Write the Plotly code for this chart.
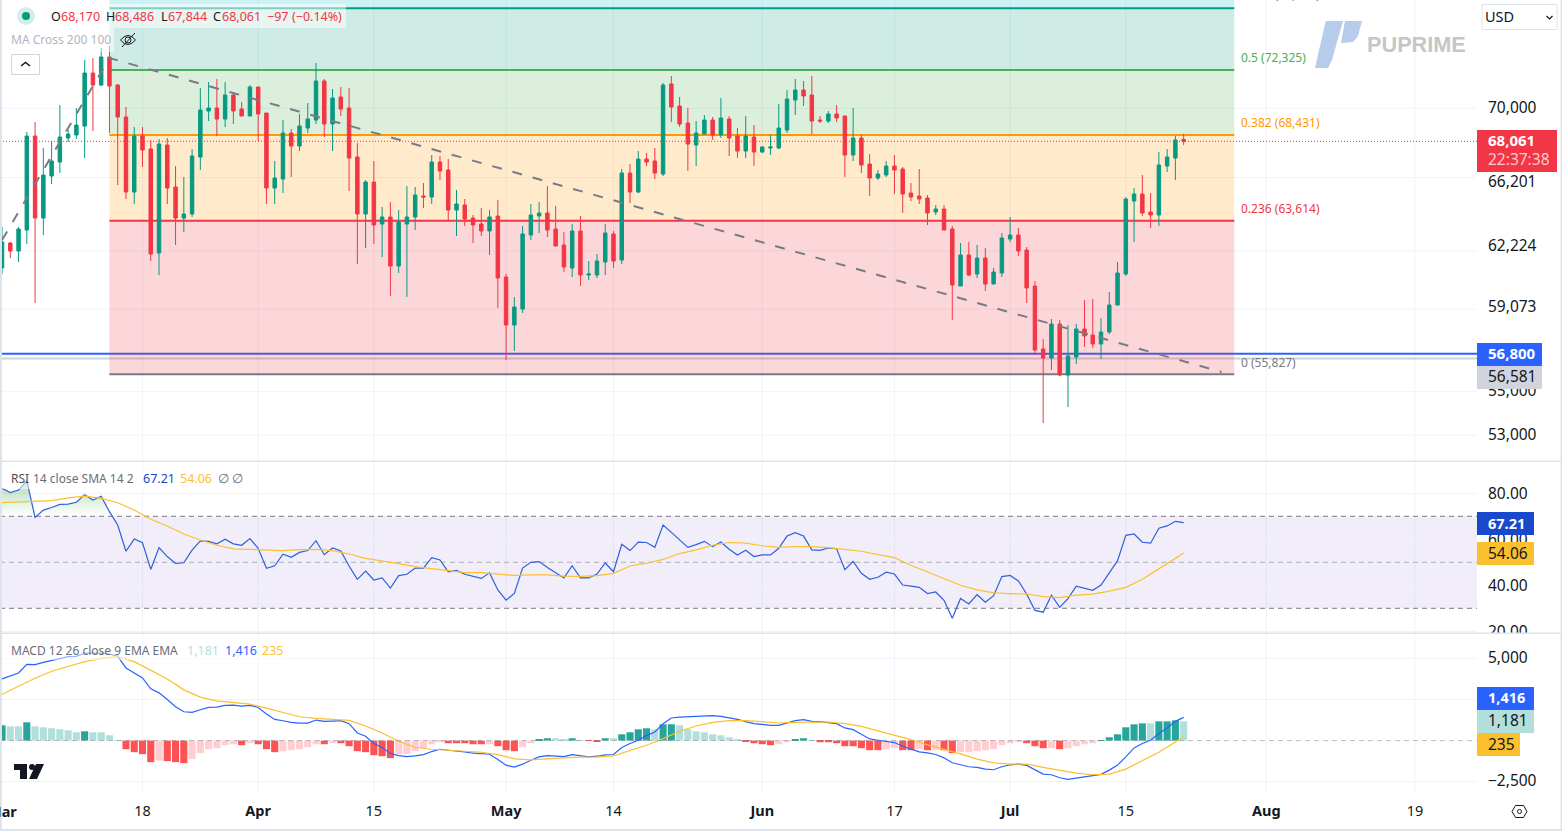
import math
import pandas as pd
import plotly.graph_objects as go

W, H = 1562, 831
PLOT_R = 1477
FONT = "Noto Sans"
DARK = "#131722"
RED = "#F23645"
GREEN = "#089981"
GRID = "#F0F3FA"
SEP = "#E0E3EB"

DATES = pd.date_range("2024-03-01", periods=144, freq="D")

OPENS = [61104,62419,61995,63113,68369,63761,66081,66874,68253,68428,68954,72135,71400,73124,71400,69484,65187,68369,67617,61890,
67847,65466,63761,63979,67158,69840,70018,69365,70798,69958,69543,71280,69721,65410,65912,68544,67790,68836,69306,71645,
69071,70678,70018,67158,63979,65744,63436,63815,61209,63436,63815,64966,64911,66874,66419,64196,64470,63761,63436,63060,
63870,60638,58211,59008,62845,63870,64033,63167,62312,61104,63060,60741,60741,61418,62899,61522,66250,65187,67044,66930,
66194,71465,70137,69130,67847,68486,69306,68428,69365,68369,67502,68311,67445,67674,67674,68719,70496,71098,70798,69306,
69247,69662,69543,67273,68253,66760,65969,66138,66646,66476,65132,64966,64855,64087,64251,63167,60176,61785,60793,61627,
60278,60845,62631,62845,62047,60176,57035,56600,58261,55787,56648,58013,57719,57278,57866,59210,60793,64690,65077,64087,
63924,66646,67101,68170]
HIGHS = [63275,62472,63275,68602,69188,67674,68078,70197,68719,70018,72937,73060,73686,73811,71465,70077,68895,68895,68136,68194,
68253,66646,66025,67617,71220,71585,71768,71585,70918,70376,71400,71280,69721,66930,69306,68778,69662,70316,72750,71768,
71160,71280,71220,67963,65856,66930,64361,64635,64196,65521,65466,65689,67273,67216,67044,65298,64800,63924,64306,64196,
64745,60793,59615,63329,64525,64635,65521,64416,63006,63436,63870,61470,61837,63436,63060,66476,66760,67502,67387,67674,
71525,71950,70678,70018,69247,69602,69484,70617,69543,68836,69543,69012,67790,68428,70257,71098,71768,71645,71950,69543,
69840,70197,69543,70018,68428,67330,66419,66930,67273,66590,65689,66476,65022,64470,64470,63329,62419,62472,62312,62153,
61104,62952,63815,63221,62206,60432,57522,58509,58459,58211,58261,59462,59513,58559,59869,61418,64911,65410,66138,65132,
67445,67617,68369,68486]
LOWS = [60793,61627,61418,62366,59311,62845,65633,66250,68021,68194,67101,68661,71340,68544,65577,64800,64525,66590,61470,60741,
64525,62312,63006,63815,66419,69247,68369,68895,69071,69543,69543,68078,64525,64525,65132,66025,67502,68544,69071,68311,
67502,69543,65243,61313,62153,62366,61680,59666,60845,59615,63113,64306,64525,65856,63598,62792,63329,62419,62792,61785,
59059,56504,56938,58808,62578,62952,62738,62259,60897,60638,60176,60483,60586,60741,61104,61313,64580,65132,66646,65912,
66081,69188,68895,66363,66646,68486,68136,68253,67216,67101,67101,66646,67387,67273,67617,68544,69602,70137,68486,69130,
69130,69188,66025,66930,66250,64966,65856,66025,65077,64033,64690,64525,63382,63924,63113,58459,60176,60690,60586,59920,
60278,60638,62472,61732,59311,56745,53553,56025,55739,54288,56312,57132,57083,56552,57768,59210,60690,62472,63870,63221,
63329,66307,65856,67844]
CLOSES = [62472,61995,63167,68369,63761,66138,66930,68311,68486,69012,72135,71400,73124,71340,69484,65187,68369,67559,61837,67905,
65410,63761,63979,67216,69899,70018,69365,70798,69840,69543,71280,69662,65410,65969,68544,67790,68954,69365,71645,69071,
70617,69958,67101,63979,65744,63382,63815,61209,63544,63815,65022,64911,66874,66363,64196,64525,63706,63382,63060,63815,
60586,58211,59109,62899,63924,64033,63113,62259,61157,63060,60741,60793,61470,62952,61470,66250,65187,67044,66874,66250,
71400,70077,69071,67905,68544,69306,68428,69424,68253,67502,68369,67445,67732,67732,68836,70557,71098,70738,69247,69247,
69662,69424,67273,68253,66703,65969,66194,66646,66419,65077,64911,64800,64033,64251,63113,60227,61785,60741,61627,60278,
60897,62685,62845,61995,60073,56986,56600,58261,55787,56697,58013,57669,57278,57866,59210,60845,64800,65077,64033,63924,
66703,67158,68136,68061]

PRICE_GRID = [70000,66000,62000,59000,55000,53000]
PRICE_TICK_POS = [70000,65690,62224,59073,55000,53000]
PRICE_TICK_TEXT = ["70,000","66,201","62,224","59,073","55,000","53,000"]
PRICE_TOP, PRICE_BOTTOM = 76760, 51850

FIB_START, FIB_END = "2024-03-14", "2024-07-28 03:00"
FIB_PRICES = [55827,63614,68431,72325,76219,81762]
FIB_LINE_COLORS = ["#787B86","#F23645","#FF9800","#4CAF50","#089981"]
FIB_FILLS = ["rgba(242,54,69,0.2)","rgba(255,152,0,0.2)","rgba(76,175,80,0.2)","rgba(8,153,129,0.2)","rgba(0,188,212,0.2)"]

TREND_DATES = ["2024-03-01","2024-03-14","2024-07-26 14:00"]
TREND_PRICES = [62578,73060,55930]
LAST_PRICE = 68061
BLUE_LEVEL = 56800
GRAY_LEVEL = 56581

RSI = [82.2,80.3,81.4,85.5,69.5,72.7,73.8,75.2,75.3,76.1,79.4,77.1,78.7,72.0,66.2,54.8,60.1,58.5,46.9,56.4,
52.5,49.5,49.8,55.3,59.3,59.1,58.0,60.0,58.0,57.4,60.3,56.1,47.4,48.5,53.5,52.2,54.3,55.1,59.4,53.3,
56.2,54.9,48.4,42.6,46.2,42.3,43.2,38.8,44.2,44.8,47.5,47.5,52.0,51.0,45.8,46.5,44.8,43.9,43.0,45.4,
38.0,33.5,36.5,47.5,50.0,50.3,47.7,45.5,43.2,48.5,43.2,43.2,44.9,
49.7,45.9,57.8,55.1,58.8,58.6,56.5,66.2,63.0,59.9,56.5,57.7,59.1,56.8,58.8,55.7,53.2,55.2,52.5,53.2,53.2,
56.1,61.4,62.9,61.4,55.4,55.2,56.2,55.9,46.8,50.4,45.2,42.6,43.5,45.7,44.9,40.1,39.6,39.1,36.4,37.1,33.5,
25.7,34.3,31.9,35.9,32.6,35.5,43.8,44.3,41.9,36.2,29.1,28.3,35.7,30.4,34.2,39.6,38.7,37.8,40.1,45.2,50.7,
61.7,62.3,58.7,58.3,64.8,65.8,67.8,67.21]
# read at every second session, plus the last one
RSI_MA = [75.9,76.1,76.5,76.8,78.0,78.8,77.8,75.9,72.7,68.7,65.8,62.3,59.7,57.4,55.8,55.6,55.6,55.1,55.5,55.6,
55.1,53.6,51.7,50.7,49.4,48.1,47.2,46.1,45.5,45.5,44.8,44.3,44.5,44.5,44.0,43.9,44.2,
45.2,48.4,49.6,51.3,53.8,55.4,57.4,58.6,58.3,57.2,56.5,56.8,56.8,56.4,55.7,54.8,53.3,52.0,48.7,45.9,43.0,
40.0,38.0,36.7,36.4,36.2,35.1,34.6,35.7,36.2,37.5,39.1,42.6,47.0,51.7,54.06]
RSI_TICKS = [80,60,40,20]
RSI_TICK_TEXT = ["80.00","60.00","40.00","20.00"]
RSI_LEVELS = [70,50,30]

MACD = [3760,3962,4124,4650,4630,4772,4893,5035,5116,5136,5338,5338,5338,5277,5136,4428,4144,3821,3153,2910,
2506,2061,1757,1717,1879,2020,2041,2142,2162,2101,2142,2020,1616,1292,1211,1110,1069,1069,1252,1171,
1191,1211,1029,463,260,-185,-427,-792,-913,-974,-933,-852,-670,-529,-589,-630,-691,-771,-812,-832,
-1156,-1500,-1621,-1439,-1196,-994,-913,-933,-974,-852,-933,-994,-954,
-870,-850,-425,-182,20,303,526,1032,1376,1436,1457,1477,1517,1517,1477,1396,1295,1153,1032,991,931,931,
1092,1214,1274,1173,1153,1113,1032,769,668,384,101,20,-40,-121,-344,-506,-688,-749,-850,-1052,-1355,
-1477,-1598,-1639,-1740,-1780,-1598,-1477,-1436,-1517,-1801,-2043,-2084,-2266,-2367,-2286,-2205,-2165,
-2063,-1801,-1497,-991,-445,-182,20,425,769,1173,1416]
# read at every second session, plus the last one
SIGNAL = [2830,3315,3801,4225,4529,4812,5014,5116,4812,4306,3760,3092,2647,2425,2303,2223,1980,1697,1454,1353,
1312,1231,888,463,-43,-407,-529,-589,-650,-711,-852,-1115,-1176,-1095,-1055,-1014,-1014,
-931,-587,-283,121,566,890,1113,1214,1214,1153,1072,1113,1133,1133,1032,870,587,344,61,-263,-526,-809,
-1133,-1355,-1436,-1436,-1639,-1821,-1983,-2084,-2043,-1740,-1234,-708,-81,235]
HIST = [931,870,870,1113,870,809,749,688,627,506,566,506,506,324,20,-526,-708,-829,-1315,-1214,
-1254,-1315,-1376,-1133,-769,-526,-465,-283,-223,-283,-162,-223,-526,-708,-647,-587,-526,-405,-223,-223,
-162,-162,-344,-647,-708,-890,-951,-1072,-829,-829,-647,-465,-223,-101,-162,-162,-162,-223,-223,-223,
-344,-587,-647,-405,-162,81,142,142,81,142,20,-20,-40,
142,142,384,506,688,749,688,991,991,931,688,566,506,384,324,202,81,-40,-162,-223,
-283,-223,-101,81,142,20,-101,-101,-162,-344,-344,-465,-587,-587,-546,-465,-587,-587,-526,-587,
-587,-587,-769,-708,-708,-647,-587,-526,-283,-162,-101,-162,-344,-465,-465,-526,-465,-344,-223,-162,
20,202,384,809,991,1052,1052,1173,1173,1234,1181]
HIST_STRONG = [1,0,0,1,0,0,0,0,0,0,1,0,0,0,0,1,1,1,1,0,1,1,1,0,0,0,0,0,0,1,0,1,1,1,0,0,0,0,0,1,0,1,1,1,1,1,1,1,
0,0,0,0,0,0,1,1,1,1,1,0,1,1,1,0,0,1,1,0,0,1,0,1,1,
1,0,1,1,1,1,0,1,1,0,0,0,0,0,0,0,0,1,1,1,1,0,0,1,1,0,1,1,1,1,1,1,1,1,0,0,1,1,0,1,0,1,1,
0,0,0,0,0,0,0,0,1,1,1,0,1,0,0,0,0,1,1,1,1,1,1,0,1,1,1,0]
MACD_TICKS = [5000,2500,-2500]
MACD_TICK_TEXT = ["5,000","","\u22122,500"]

DATE_TICKS = ["2024-03-18","2024-04-01","2024-04-15","2024-05-01","2024-05-14","2024-06-01","2024-06-17",
              "2024-07-01","2024-07-15","2024-08-01","2024-08-19"]
DATE_TEXT = ["18","<b>Apr</b>","15","<b>May</b>","14","<b>Jun</b>","17","<b>Jul</b>","15","<b>Aug</b>","19"]
X_RANGE = ["2024-02-29 18:07","2024-08-26 12:00"]

sparse_idx = list(range(0, 143, 2)) + [143]
sparse_dates = DATES[sparse_idx]


def px(x):
    return x / W


def py(y):
    return 1 - y / H


def pp(*pts):
    return " ".join(f"{c}{px(x):.5f},{py(y):.5f}" for c, x, y in pts)


def rect(x0, y0, x1, y1, fill, layer="above", line=None):
    return dict(type="rect", xref="paper", yref="paper", x0=px(x0), x1=px(x1), y0=py(y0), y1=py(y1),
                fillcolor=fill, line=dict(width=0) if line is None else line, layer=layer)


def path(d, fill=None, line=None, layer="above"):
    s = dict(type="path", xref="paper", yref="paper", path=d, layer=layer,
             line=dict(width=0) if line is None else line)
    if fill:
        s["fillcolor"] = fill
    return s


def circle(cx, cy, r, fill=None, line=None, layer="above"):
    s = dict(type="circle", xref="paper", yref="paper", x0=px(cx - r), x1=px(cx + r), y0=py(cy - r), y1=py(cy + r),
             layer=layer, line=dict(width=0) if line is None else line)
    if fill:
        s["fillcolor"] = fill
    return s


def text(t, x, y, color=DARK, size=12.5, anchor="left", bold=False, family=FONT):
    return dict(text=f"<b>{t}</b>" if bold else t, xref="paper", yref="paper", x=px(x), y=py(y), xanchor=anchor,
                yanchor="middle", showarrow=False, borderpad=0, borderwidth=0,
                font=dict(family=family, size=size, color=color))


fig = go.Figure()

# Falling / rising dashed trend drawn under the candles
fig.add_trace(go.Scatter(x=TREND_DATES, y=TREND_PRICES, mode="lines", xaxis="x", yaxis="y", hoverinfo="skip",
                         line=dict(color="#787B86", width=2, dash="10px,11px")))
fig.add_trace(go.Candlestick(x=DATES, open=OPENS, high=HIGHS, low=LOWS, close=CLOSES, xaxis="x", yaxis="y",
                             whiskerwidth=0,
                             increasing=dict(line=dict(color=GREEN, width=1), fillcolor=GREEN),
                             decreasing=dict(line=dict(color=RED, width=1), fillcolor=RED)))

# RSI pane
fig.add_trace(go.Scatter(x=DATES, y=[70] * len(RSI), mode="lines", line=dict(width=0), xaxis="x2", yaxis="y2",
                         hoverinfo="skip"))
fig.add_trace(go.Scatter(x=DATES, y=[max(v, 70) for v in RSI], mode="lines", line=dict(width=0), xaxis="x2",
                         yaxis="y2", fill="tonexty", hoverinfo="skip",
                         fillgradient=dict(type="vertical", start=70, stop=86,
                                           colorscale=[[0, "rgba(76,175,80,0)"], [1, "rgba(76,175,80,0.45)"]])))
fig.add_trace(go.Scatter(x=DATES, y=RSI, mode="lines", line=dict(color="#2F5FDC", width=1.2), xaxis="x2", yaxis="y2"))
fig.add_trace(go.Scatter(x=sparse_dates, y=RSI_MA, mode="lines", line=dict(color="#FBC02D", width=1.2),
                         xaxis="x2", yaxis="y2"))

# MACD pane
hist_colors = []
for v, s in zip(HIST, HIST_STRONG):
    if v >= 0:
        hist_colors.append("#26A69A" if s else "#B2DFDB")
    else:
        hist_colors.append("#FF5252" if s else "#FFCDD2")
fig.add_trace(go.Bar(x=DATES, y=HIST, marker=dict(color=hist_colors, line=dict(width=0)), xaxis="x3", yaxis="y3"))
fig.add_trace(go.Scatter(x=DATES, y=MACD, mode="lines", line=dict(color="#2962FF", width=1.2), xaxis="x3", yaxis="y3"))
fig.add_trace(go.Scatter(x=sparse_dates, y=SIGNAL, mode="lines", line=dict(color="#FBC02D", width=1.2),
                         xaxis="x3", yaxis="y3"))

shapes = []
for d in DATE_TICKS:
    shapes.append(dict(type="line", xref="x", yref="paper", x0=d, x1=d, y0=py(793), y1=1,
                       line=dict(color=GRID, width=1), layer="below"))
for p in PRICE_GRID:
    shapes.append(dict(type="line", xref="paper", yref="y", x0=0, x1=px(PLOT_R), y0=p, y1=p,
                       line=dict(color=GRID, width=1), layer="below"))
for i, fill in enumerate(FIB_FILLS):
    shapes.append(dict(type="rect", xref="x", yref="y", x0=FIB_START, x1=FIB_END, y0=FIB_PRICES[i], y1=FIB_PRICES[i + 1],
                       fillcolor=fill, line=dict(width=0), layer="below"))
for p, c in zip(FIB_PRICES, FIB_LINE_COLORS):
    shapes.append(dict(type="line", xref="x", yref="y", x0=FIB_START, x1=FIB_END, y0=p, y1=p,
                       line=dict(color=c, width=2), layer="below"))
shapes.append(dict(type="line", xref="paper", yref="y", x0=0, x1=px(PLOT_R), y0=GRAY_LEVEL, y1=GRAY_LEVEL,
                   line=dict(color="rgba(120,123,134,0.35)", width=2), layer="below"))
shapes.append(dict(type="line", xref="paper", yref="y", x0=0, x1=px(PLOT_R), y0=BLUE_LEVEL, y1=BLUE_LEVEL,
                   line=dict(color="#2962FF", width=2), layer="below"))
shapes.append(dict(type="line", xref="paper", yref="y", x0=0, x1=px(PLOT_R), y0=LAST_PRICE, y1=LAST_PRICE,
                   line=dict(color=RED, width=1, dash="1px,2px"), layer="above"))
# RSI band and levels
shapes.append(dict(type="rect", xref="paper", yref="y2", x0=0, x1=px(PLOT_R), y0=RSI_LEVELS[2], y1=RSI_LEVELS[0],
                   fillcolor="rgba(126,87,194,0.1)", line=dict(width=0), layer="below"))
for lv, c in zip(RSI_LEVELS, ["#787B86", "rgba(120,123,134,0.55)", "#787B86"]):
    shapes.append(dict(type="line", xref="paper", yref="y2", x0=0, x1=px(PLOT_R), y0=lv, y1=lv,
                       line=dict(color=c, width=1, dash="5px,4px"), layer="below"))
shapes.append(dict(type="line", xref="paper", yref="y3", x0=0, x1=px(PLOT_R), y0=0, y1=0,
                   line=dict(color="rgba(120,123,134,0.5)", width=1, dash="5px,4px"), layer="above"))

# legend backplates
shapes += [rect(2, 4, 346, 28, "rgba(255,255,255,0.5)"), rect(2, 28, 114, 52, "rgba(255,255,255,0.5)"),
           rect(2, 468, 246, 489, "rgba(255,255,255,0.5)"), rect(2, 640, 286, 660, "rgba(255,255,255,0.5)")]
# symbol dot
shapes += [circle(26, 16, 9, "#D3EDE8"), circle(26, 16, 4, GREEN)]
# eye-off icon
shapes += [path(f"M{px(120.5):.5f},{py(40):.5f} Q{px(128):.5f},{py(31):.5f} {px(135.5):.5f},{py(40):.5f} "
                f"Q{px(128):.5f},{py(49):.5f} {px(120.5):.5f},{py(40):.5f}", line=dict(color=DARK, width=1)),
           circle(128, 40, 3, None, dict(color=DARK, width=1)),
           path(pp(("M", 122, 47), ("L", 135, 33)), line=dict(color=DARK, width=1))]
# chevron button
shapes += [dict(type="rect", xref="paper", yref="paper", x0=px(11.5), x1=px(39.5), y0=py(54.5), y1=py(74.5),
                fillcolor="white", line=dict(color="#D1D4DC", width=1), layer="above"),
           path(pp(("M", 21, 66), ("L", 25.5, 62.5), ("L", 30, 66)), line=dict(color=DARK, width=1.4))]
# watermark
logo = "#B7CCEB"
shapes += [path(pp(("M", 1325, 24), ("L", 1326, 21), ("L", 1343, 21), ("L", 1332, 60), ("L", 1328, 68), ("L", 1315, 68)) + " Z", fill=logo),
           path(pp(("M", 1345, 21), ("L", 1362, 21), ("L", 1358, 36), ("L", 1353, 42), ("L", 1341, 43)) + " Z", fill=logo)]
# TradingView mark
shapes += [path(pp(("M", 14, 764), ("L", 27, 764), ("L", 27, 779), ("L", 20, 779), ("L", 20, 770), ("L", 14, 770)) + " Z", fill=DARK),
           circle(32, 767, 3, DARK),
           path(pp(("M", 36, 764), ("L", 44, 764), ("L", 37, 779), ("L", 29, 779)) + " Z", fill=DARK)]
# currency button
shapes += [dict(type="rect", xref="paper", yref="paper", x0=px(1482), x1=px(1557), y0=py(4.5), y1=py(29.5),
                fillcolor="white", line=dict(color=SEP, width=1), layer="above"),
           path(pp(("M", 1546.5, 16), ("L", 1549.5, 19), ("L", 1552.5, 16)), line=dict(color=DARK, width=1.2))]
# white strip that clips the 20.00 label, then pane separators and frame
shapes += [rect(PLOT_R, 633, W, 645, "white"),
           rect(0, 460.5, W, 462, SEP), rect(0, 632.5, W, 634, SEP), rect(0, 829, W, 831, SEP),
           rect(0, 0, 2, H, SEP), rect(1560.5, 0, W, H, SEP)]
# value tags
shapes += [rect(PLOT_R, 130, 1557, 172, RED),
           rect(PLOT_R, 366, 1542, 389, "#D1D4DC"), rect(PLOT_R, 343, 1542, 366, "#2962FF"),
           rect(PLOT_R, 512, 1534, 535, "#1848CC"), rect(PLOT_R, 542, 1534, 565, "#FBC02D"),
           rect(PLOT_R, 687, 1534, 710, "#2962FF"), rect(PLOT_R, 710, 1534, 733, "#B2DFDB"),
           rect(PLOT_R, 733, 1520, 756, "#FBC02D")]
# settings icon
shapes += [path(pp(("M", 1512, 811.5), ("L", 1515.5, 805.5), ("L", 1523.5, 805.5), ("L", 1527, 811.5), ("L", 1523.5, 817.5), ("L", 1515.5, 817.5)) + " Z",
                line=dict(color=DARK, width=1)),
           circle(1519.5, 811.5, 2, None, dict(color=DARK, width=1))]

ann = [
    text("O", 51, 16), text("68,170", 60.5, 16, RED),
    text("H", 106, 16), text("68,486", 115, 16, RED),
    text("L", 161, 16), text("67,844", 168, 16, RED),
    text("C", 213, 16), text("68,061", 222, 16, RED),
    text("\u221297", 267, 16, RED), text("(\u22120.14%)", 292, 16, RED),
    text("MA Cross 200 100", 11, 40, "#B2B5BE", 12),
    text("0.618 (76,219)", 1241, -5, "#089981", 12),
    text("0.5 (72,325)", 1241, 57.5, "#4CAF50", 12),
    text("0.382 (68,431)", 1241, 122.5, "#FF9800", 12),
    text("0.236 (63,614)", 1241, 209, "#F23645", 12),
    text("0 (55,827)", 1241, 362, "#787B86", 12),
    text("PUPRIME", 1367, 44.5, "#C6C6C6", 21.7, bold=True, family="Liberation Sans"),
    text("USD", 1485, 16.5, DARK, 14.5),
    text("68,061", 1488, 140, "white", 15, bold=True),
    text("22:37:38", 1488, 159, "rgba(255,255,255,0.75)", 15.5),
    text("56,800", 1488, 353, "white", 15, bold=True),
    text("56,581", 1488, 376, DARK, 15.5),
    text("RSI", 11, 478.5, "#4A4D58", 12), text("14 close SMA 14 2", 33, 478.5, "#6A6D78", 12),
    text("67.21", 142.5, 478.5, "#1848CC"), text("54.06", 180, 478.5, "#FBC02D"),
    text("\u2205", 218, 478.5, "#6A6D78"), text("\u2205", 232, 478.5, "#6A6D78"),
    text("67.21", 1488, 522.5, "white", 14.5, bold=True),
    text("54.06", 1488, 553, DARK, 15.5),
    text("MACD 12 26 close 9 EMA EMA", 11, 650.5, "#6A6D78", 12),
    text("1,181", 187, 650.5, "#B2DFDB"), text("1,416", 225, 650.5, "#2962FF"), text("235", 262, 650.5, "#FBC02D"),
    text("1,416", 1488, 697, "white", 14.5, bold=True),
    text("1,181", 1488, 720, DARK, 15.5),
    text("235", 1488, 744, DARK, 15.5),
    text("Mar", 2, 811, DARK, 14.5, anchor="center", bold=True),
]

yfont = dict(family=FONT, size=15.5, color=DARK)
xbase = dict(type="date", range=X_RANGE, domain=[0, px(PLOT_R)], showgrid=False, zeroline=False, showline=False,
             ticks="", rangeslider=dict(visible=False))
ybase = dict(side="right", zeroline=False, showline=False, ticks="", tickfont=yfont, ticklabelstandoff=10)

fig.update_layout(
    width=W, height=H, autosize=False, showlegend=False, hovermode=False,
    paper_bgcolor="white", plot_bgcolor="white",
    margin=dict(l=0, r=0, t=0, b=0, autoexpand=False), bargap=0.14, boxgap=0.4,
    shapes=shapes, annotations=ann,
    xaxis=dict(anchor="y", showticklabels=False, **xbase),
    xaxis2=dict(anchor="y2", showticklabels=False, **xbase),
    xaxis3=dict(anchor="y3", showticklabels=True, tickmode="array", tickvals=DATE_TICKS, ticktext=DATE_TEXT,
                tickfont=dict(family=FONT, size=14.5, color=DARK), ticklabelstandoff=5, **xbase),
    yaxis=dict(type="log", anchor="x", domain=[py(461), 1], range=[math.log10(PRICE_BOTTOM), math.log10(PRICE_TOP)],
               tickmode="array", tickvals=PRICE_TICK_POS, ticktext=PRICE_TICK_TEXT, showgrid=False,
               ticklabelshift=-1, **ybase),
    yaxis2=dict(anchor="x2", domain=[py(633), py(462)], range=[19.26, 93.6], tickmode="array", tickvals=RSI_TICKS,
                ticktext=RSI_TICK_TEXT, showgrid=True, gridcolor=GRID, **ybase),
    yaxis3=dict(anchor="x3", domain=[py(795), py(634)], range=[-3319, 6499], tickmode="array", tickvals=MACD_TICKS,
                ticktext=MACD_TICK_TEXT, showgrid=True, gridcolor=GRID, ticklabelshift=-1, **ybase),
)

fig.write_html("out.html", config=dict(displayModeBar=False),
               post_script="document.body.style.margin='0';document.body.style.overflow='hidden';")
